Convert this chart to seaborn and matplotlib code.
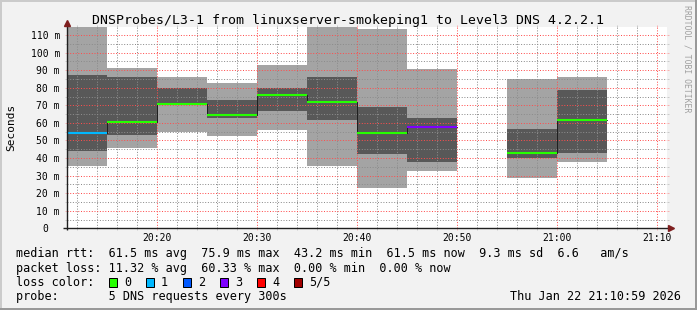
import numpy as np
import pandas as pd
import matplotlib
matplotlib.use("Agg")
import matplotlib.pyplot as plt
from matplotlib.patches import Rectangle
from matplotlib.transforms import ScaledTranslation
import seaborn as sns

# ---------------- data ----------------
times = ["20:15", "20:20", "20:25", "20:30", "20:35", "20:40",
         "20:45", "20:50", "20:55", "21:00", "21:05"]          # end of each 300 s step
ping_min = [35.5, 45.5, 55.0, 52.8, 56.0, 35.7, 23.1, 32.8, np.nan, 28.8, 38.0]
ping_low = [44.2, 53.1, 70.3, 63.0, 67.0, 61.7, 42.3, 37.8, np.nan, 40.2, 42.9]
ping_median = [54.5, 60.7, 71.0, 64.5, 76.1, 71.7, 54.5, 57.9, np.nan, 43.1, 61.5]
ping_high = [87.3, 86.0, 79.9, 73.1, 79.7, 86.0, 69.3, 62.8, np.nan, 56.4, 78.9]
ping_max = [114.5, 91.1, 86.0, 82.7, 93.0, 114.5, 113.6, 90.7, np.nan, 85.0, 86.1]
lost_pings = [1, 0, 0, 0, 0, 0, 0, 3, np.nan, 0, 0]

loss_labels = ["0", "1", "2", "3", "4", "5/5"]
loss_colors = ["#26ff00", "#00b8ff", "#0059ff", "#7e00ff", "#ff0000", "#a10000"]

x_tick_labels = ["20:20", "20:30", "20:40", "20:50", "21:00", "21:10"]
y_tick_values = [0, 10, 20, 30, 40, 50, 60, 70, 80, 90, 100, 110]
y_tick_labels = ["0", "10 m", "20 m", "30 m", "40 m", "50 m", "60 m",
                 "70 m", "80 m", "90 m", "100 m", "110 m"]

title = "DNSProbes/L3-1 from linuxserver-smokeping1 to Level3 DNS 4.2.2.1"
legend_lines = [
    "median rtt:  61.5 ms avg  75.9 ms max  43.2 ms min  61.5 ms now  9.3 ms sd  6.6   am/s",
    "packet loss: 11.32 % avg  60.33 % max  0.00 % min  0.00 % now",
    "loss color:",
    "probe:       5 DNS requests every 300s",
]
timestamp = "Thu Jan 22 21:10:59 2026"
step_minutes = 5


def to_min(s):
    h, m = s.split(":")
    return (int(h) - 20) * 60 + int(m)


ends = np.array([to_min(t) for t in times], dtype=float)
starts = ends - step_minutes

# ---------------- figure ----------------
sns.set_style("white")
plt.rcParams["font.family"] = ["DejaVu Sans Mono", "DejaVu Sans"]

W, H = 697, 310
fig = plt.figure(figsize=(W / 100, H / 100), dpi=100, facecolor="#f2f2f2")


def fx(x):
    return x / W


def fy(y):
    return 1 - y / H


# 3D frame
fig.patches.append(Rectangle((0, fy(2)), 1, 2 / H, transform=fig.transFigure, color="#cbcbcb", lw=0))
fig.patches.append(Rectangle((0, 0), 2 / W, 1, transform=fig.transFigure, color="#cbcbcb", lw=0))
fig.patches.append(Rectangle((0, 0), 1, 2 / H, transform=fig.transFigure, color="#999999", lw=0))
fig.patches.append(Rectangle((fx(W - 2), 0), 2 / W, 1, transform=fig.transFigure, color="#999999", lw=0))

left_px, right_px, top_px, bottom_px = 67, 667, 27.3, 228.3
ax = fig.add_axes([fx(left_px), fy(bottom_px), (right_px - left_px) / W, (bottom_px - top_px) / H])
ax.set_facecolor("white")

# smoke
light = "#a4a4a4"
dark = "#585858"
pmin = np.array(ping_min); pmax = np.array(ping_max)
plo = np.array(ping_low); phi = np.array(ping_high)
ax.bar(starts, pmax - pmin, bottom=pmin, width=step_minutes, align="edge",
       color=light, linewidth=0, zorder=1)
ax.bar(starts, phi - plo, bottom=plo, width=step_minutes, align="edge",
       color=dark, linewidth=0, zorder=1.1)

# median step line (thin dark)
xs = np.append(starts, ends[-1])
ys = np.append(ping_median, ping_median[-1])
ax.step(xs, ys, where="post", color="#202020", lw=0.72, zorder=3)

# loss-coloured median segments via seaborn
rows = []
for i, (s, e, m, l) in enumerate(zip(starts, ends, ping_median, lost_pings)):
    if np.isnan(m):
        continue
    lab = loss_labels[int(l)]
    rows.append({"t": s, "median": m, "loss": lab, "bar": i})
    rows.append({"t": e, "median": m, "loss": lab, "bar": i})
seg = pd.DataFrame(rows)
sns.lineplot(data=seg, x="t", y="median", hue="loss", units="bar", estimator=None,
             palette=dict(zip(loss_labels, loss_colors)), hue_order=loss_labels,
             legend=False, lw=1.5, sort=False, ax=ax, zorder=4,
             solid_capstyle="butt")

# scales
ax.set_xlim(11, 71)
ax.set_ylim(0, (bottom_px - top_px) / 1.757)
ax.set_xticks([to_min(t) for t in x_tick_labels])
ax.set_xticklabels(x_tick_labels)
ax.set_xticks(np.arange(12, 71, 2), minor=True)
ax.set_yticks(y_tick_values)
ax.set_yticklabels(y_tick_labels)
ax.set_yticks(np.arange(5, 114, 10), minor=True)
ax.set_xlabel("")
ax.set_ylabel("")

mgrid = (1.0, 0.3, 0.3, 0.38)
grid = (0.55, 0.55, 0.55, 0.38)
ax.grid(which="major", color=mgrid, linestyle=(0, (1, 1.7)), lw=0.72)
ax.grid(which="minor", color=grid, linestyle=(0, (1, 1.7)), lw=0.72)
ax.set_axisbelow(False)

ax.tick_params(which="both", direction="out", length=1.44, width=0.72,
               left=True, right=True, bottom=True, top=True,
               labelright=False, labeltop=False)
ax.tick_params(which="major", color=mgrid)
ax.tick_params(which="minor", color=grid)
ax.tick_params(axis="y", which="major", labelsize=7, pad=3.6, labelcolor="black")
ax.tick_params(axis="x", which="major", labelsize=7, pad=2.2, labelcolor="black")
for lab in ax.get_yticklabels():
    if lab.get_text() == "0":
        lab.set_transform(lab.get_transform() + ScaledTranslation(-0.12, 0, fig.dpi_scale_trans))

for sp in ax.spines.values():
    sp.set_visible(False)

# axis lines with arrows
pxx = 1 / (right_px - left_px)
pxy = 1 / (bottom_px - top_px)
ax.plot([-4 * pxx, 1 + 2 * pxx], [0, 0], color="#1f1f1f", lw=1.0, transform=ax.transAxes,
        clip_on=False, zorder=5, solid_capstyle="butt")
ax.plot([0, 0], [-2 * pxy, 1 + 3 * pxy], color="#1f1f1f", lw=1.0, transform=ax.transAxes,
        clip_on=False, zorder=5, solid_capstyle="butt")
ax.plot([1 + 4 * pxx], [0], marker=">", ms=4, color="#7f1f1f", mec="#7f1f1f",
        transform=ax.transAxes, clip_on=False, zorder=6)
ax.plot([0], [1 + 4 * pxy], marker="^", ms=4, color="#7f1f1f", mec="#7f1f1f",
        transform=ax.transAxes, clip_on=False, zorder=6)

# texts
fig.text(fx(348.5), fy(24), title, ha="center", va="baseline", fontsize=9.5, color="black")
fig.text(fx(11), fy(127.8), "Seconds", rotation=90, ha="center", va="center",
         fontsize=8, color="black")
fig.text(fx(687), fy(5), "RRDTOOL / TOBI OETIKER", rotation=270, ha="center", va="top",
         fontsize=5.9, color="#a0a0a0")

base = [257.5, 271.6, 285.7, 299.8]
for txt, b in zip(legend_lines, base):
    fig.text(fx(15.5), fy(b), txt, ha="left", va="baseline", fontsize=8.45, color="black")
fig.text(fx(680.5), fy(base[3]), timestamp, ha="right", va="baseline", fontsize=8.45,
         color="black")

for i, (lab, col) in enumerate(zip(loss_labels, loss_colors)):
    sx = 108.5 + 37 * i
    fig.patches.append(Rectangle((fx(sx), fy(286.8)), 8.5 / W, 8.5 / H,
                                 transform=fig.transFigure, facecolor=col,
                                 edgecolor="black", lw=0.72))
    fig.text(fx(sx + 15.5), fy(base[2]), lab, ha="left", va="baseline", fontsize=8.45,
             color="black")

fig.savefig("out.png", dpi=100, facecolor=fig.get_facecolor())
